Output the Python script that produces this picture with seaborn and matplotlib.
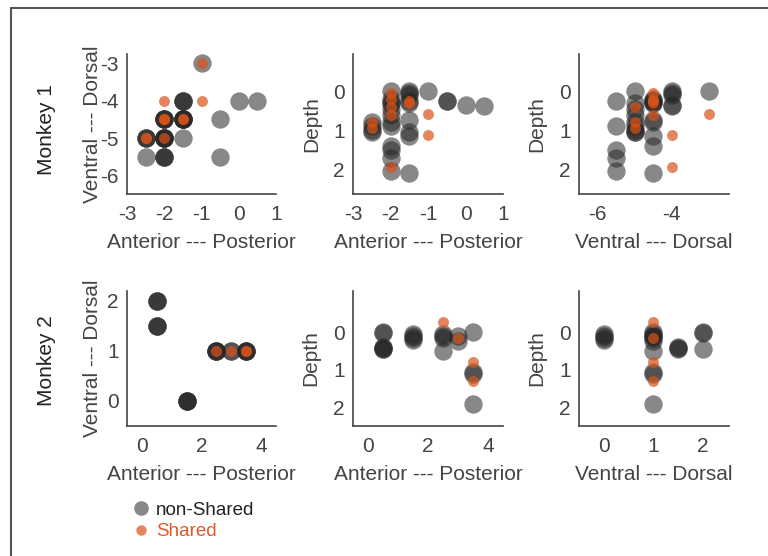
import matplotlib
matplotlib.use("Agg")
import matplotlib.pyplot as plt
from matplotlib.lines import Line2D
import pandas as pd
import seaborn as sns

# Monkey 1 recording sites (anterior-posterior, ventral-dorsal, depth)
m1_ap = [-1, 0, 0.5, -0.5, -0.5, -2.5, -2.5, -2.5, -2.5, -1.5, -1.5, -1.5,
         -2, -2, -2, -2, -1.5, -1.5, -1.5, -1.5, -1.5,
         -2, -2, -2, -2, -2, -1.5, -2, -2, -2]
m1_dv = [-3, -4, -4, -4.5, -5.5, -5.5, -5, -5, -5, -4, -4, -4,
         -4.5, -4.5, -4.5, -4.5, -4.5, -4.5, -4.5, -4.5, -4.5,
         -5, -5, -5, -5, -5, -5, -5.5, -5.5, -5.5]
m1_depth = [0.0, 0.35, 0.38, 0.25, 0.25, 0.9, 0.8, 1.0, 1.05, 0.0, 0.05, 0.1,
            0.2, 0.3, 0.8, 1.4, 0.25, 0.3, 0.75, 1.15, 2.1,
            0.0, 0.3, 0.45, 0.6, 0.9, 1.05, 1.5, 1.7, 2.05]

m1_sh_ap = [-1, -1, -2, -2.5, -2.5, -2, -2, -2, -2, -1.5, -1.5]
m1_sh_dv = [-3, -4, -4, -5, -5, -5, -4.5, -4.5, -4.5, -4.5, -4.5]
m1_sh_depth = [0.58, 1.12, 1.95, 0.8, 0.95, 0.4, 0.05, 0.2, 0.6, 0.25, 0.3]

# Monkey 2
m2_ap = [0.5, 0.5, 0.5, 0.5, 0.5, 0.5, 1.5, 1.5, 1.5, 1.5,
         2.5, 2.5, 2.5, 2.5, 3, 3, 3.5, 3.5, 3.5, 3.5]
m2_dv = [2, 2, 2, 1.5, 1.5, 1.5, 0, 0, 0, 0,
         1, 1, 1, 1, 1, 1, 1, 1, 1, 1]
m2_depth = [0.0, 0.03, 0.45, 0.38, 0.42, 0.45, 0.05, 0.1, 0.15, 0.2,
            0.05, 0.1, 0.15, 0.5, 0.1, 0.22, 0.0, 1.05, 1.1, 1.9]

m2_sh_ap = [2.5, 3, 3.5, 3.5]
m2_sh_dv = [1, 1, 1, 1]
m2_sh_depth = [-0.28, 0.15, 0.8, 1.3]

GRAY = "#262626"
ORANGE = "#D95319"
TXT = "#444444"
FS = 15

plt.rcParams["axes.unicode_minus"] = False
sns.set_style("white")
plt.rcParams["font.family"] = ["Liberation Sans", "DejaVu Sans"]

fig = plt.figure(figsize=(7.68, 5.56), dpi=100)

W, H = 768, 556


def make_ax(x0, x1, y0, y1):
    return fig.add_axes([x0 / W, 1 - y1 / H, (x1 - x0) / W, (y1 - y0) / H])


m1 = pd.DataFrame({"ap": m1_ap, "dv": m1_dv, "depth": m1_depth})
m1s = pd.DataFrame({"ap": m1_sh_ap, "dv": m1_sh_dv, "depth": m1_sh_depth})
m2 = pd.DataFrame({"ap": m2_ap, "dv": m2_dv, "depth": m2_depth})
m2s = pd.DataFrame({"ap": m2_sh_ap, "dv": m2_sh_dv, "depth": m2_sh_depth})

cols = [(127, 276), (353, 503), (579, 729)]
rows = [(54, 194), (291, 426)]

panels = [
    # row, col, df, df_shared, x, y, xlim, ylim, xticks, yticks, xlabel, ylabel, ylabel offset px
    (0, 0, m1, m1s, "ap", "dv", (-3, 1), (-6.5, -2.75), [-3, -2, -1, 0, 1], [-6, -5, -4, -3],
     "Anterior --- Posterior", "Ventral --- Dorsal", 35),
    (0, 1, m1, m1s, "ap", "depth", (-3, 1), (2.63, -0.95), [-3, -2, -1, 0, 1], [0, 1, 2],
     "Anterior --- Posterior", "Depth", 41),
    (0, 2, m1, m1s, "dv", "depth", (-6.5, -2.45), (2.63, -0.95), [-6, -4], [0, 1, 2],
     "Ventral --- Dorsal", "Depth", 42),
    (1, 0, m2, m2s, "ap", "dv", (-0.5, 4.5), (-0.5, 2.2), [0, 2, 4], [0, 1, 2],
     "Anterior --- Posterior", "Ventral --- Dorsal", 34),
    (1, 1, m2, m2s, "ap", "depth", (-0.5, 4.5), (2.5, -1.1), [0, 2, 4], [0, 1, 2],
     "Anterior --- Posterior", "Depth", 42),
    (1, 2, m2, m2s, "dv", "depth", (-0.5, 2.53), (2.5, -1.1), [0, 1, 2], [0, 1, 2],
     "Ventral --- Dorsal", "Depth", 42),
]

for r, c, df, dfs, xv, yv, xlim, ylim, xt, yt, xl, yl, yoff in panels:
    ax = make_ax(cols[c][0], cols[c][1], rows[r][0], rows[r][1])
    sns.scatterplot(data=df, x=xv, y=yv, color=GRAY, alpha=0.55, s=175,
                    linewidth=0, ax=ax, zorder=3, clip_on=False)
    sns.scatterplot(data=dfs, x=xv, y=yv, color=ORANGE, alpha=0.7, s=62,
                    linewidth=0, ax=ax, zorder=4, clip_on=False)
    ax.set_xlim(*xlim)
    ax.set_ylim(*ylim)
    ax.set_xticks(xt)
    ax.set_yticks(yt)
    ax.set_xlabel(xl, fontsize=FS, color=TXT, va="center")
    ax.set_ylabel(yl, fontsize=FS, color=TXT, va="center")
    aw = cols[c][1] - cols[c][0]
    ah = rows[r][1] - rows[r][0]
    ax.yaxis.set_label_coords(-yoff / aw, 0.5)
    ax.xaxis.set_label_coords(0.5, -48 / ah)
    ax.tick_params(direction="in", length=3, width=1, colors="#444444",
                   labelsize=FS, labelcolor=TXT)
    ax.tick_params(axis="x", pad=8)
    ax.tick_params(axis="y", pad=6)
    sns.despine(ax=ax)
    for sp in ["left", "bottom"]:
        ax.spines[sp].set_color("#444444")
        ax.spines[sp].set_linewidth(1.2)
    ax.grid(False)

fig.text(47 / W, 1 - 130 / H, "Monkey 1", rotation=90, fontsize=FS,
         color="#222222", ha="center", va="center")
fig.text(47 / W, 1 - 361 / H, "Monkey 2", rotation=90, fontsize=FS,
         color="#222222", ha="center", va="center")

# legend
handles = [
    Line2D([], [], marker="o", linestyle="", markersize=10.5, color=GRAY,
           alpha=0.55, markeredgewidth=0),
    Line2D([], [], marker="o", linestyle="", markersize=7.5, color=ORANGE,
           alpha=0.7, markeredgewidth=0),
]
leg = fig.legend(handles, ["non-Shared", "Shared"], loc="center left",
                 bbox_to_anchor=(122 / W, 1 - 521 / H), frameon=False,
                 fontsize=13.5, handletextpad=0.3, labelspacing=0.25,
                 handlelength=1.0, borderpad=0)
leg.get_texts()[0].set_color("#222222")
leg.get_texts()[1].set_color("#E0592A")

# frame line around figure
fig.add_artist(Line2D([11 / W, 11 / W], [0, 1 - 8 / H], transform=fig.transFigure,
                      color="#555555", lw=1.5))
fig.add_artist(Line2D([11 / W, 1], [1 - 8 / H, 1 - 8 / H], transform=fig.transFigure,
                      color="#555555", lw=1.5))

fig.savefig("out.png", dpi=100)
